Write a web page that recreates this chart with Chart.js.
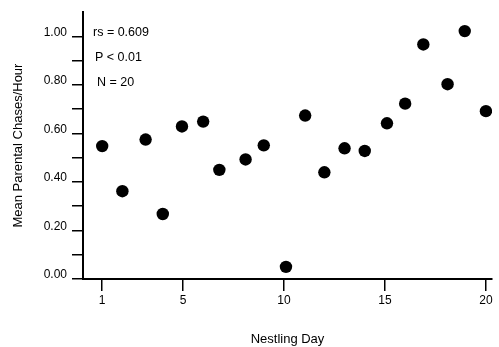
<!DOCTYPE html>
<html>
<head>
<meta charset="utf-8">
<script src="https://cdn.jsdelivr.net/npm/chart.js@4"></script>
<style>
  html, body { margin: 0; padding: 0; background: #fff; }
  #wrap { width: 499px; height: 347px; }
</style>
</head>
<body>
<div id="wrap"><canvas id="chaseChart" width="499" height="347"></canvas></div>
<script>
// Data (x as plotted, y = mean chases per hour)
const nestlingDays = [1.0, 2.0, 3.15, 4.0, 4.95, 6.0, 6.8, 8.1, 9.0, 10.1,
  11.05, 12.0, 13.0, 14.0, 15.1, 16.0, 16.9, 18.1, 18.95, 20.0];
const chaseRates = [0.548, 0.362, 0.575, 0.268, 0.629, 0.649, 0.450, 0.493, 0.551, 0.050,
  0.674, 0.440, 0.539, 0.528, 0.642, 0.723, 0.967, 0.803, 1.022, 0.692];

const xTickValues = [1, 5, 10, 15, 20];
const yTickValues = [0, 0.1, 0.2, 0.3, 0.4, 0.5, 0.6, 0.7, 0.8, 0.9, 1.0];
const yTickLabels = ["0.00", "", "0.20", "", "0.40", "", "0.60", "", "0.80", "", "1.00"];
const statLines = ["rs = 0.609", "P < 0.01", "N = 20"];

const FONT = "'Liberation Sans', Arial, Helvetica, sans-serif";

// Stats text in the upper left corner
const statsText = {
  id: "statsText",
  afterDraw(chart) {
    const { ctx, chartArea } = chart;
    const xOff = [10, 12, 14];
    ctx.save();
    ctx.fillStyle = "#000";
    ctx.font = "12.5px " + FONT;
    ctx.textAlign = "left";
    ctx.textBaseline = "middle";
    statLines.forEach((line, i) => {
      ctx.fillText(line, chartArea.left + xOff[i], chartArea.top + 20 + i * 25);
    });
    ctx.restore();
  }
};

const ctx = document.getElementById("chaseChart").getContext("2d");

new Chart(ctx, {
  type: "scatter",
  data: {
    datasets: [{
      data: nestlingDays.map((d, i) => ({ x: d, y: chaseRates[i] })),
      backgroundColor: "#000",
      borderWidth: 0,
      pointRadius: 6.2,
      pointHoverRadius: 6.2
    }]
  },
  options: {
    responsive: false,
    devicePixelRatio: 1,
    animation: false,
    layout: { padding: { top: 7, right: 7, left: 0, bottom: 0 } },
    plugins: {
      legend: { display: false },
      tooltip: { enabled: false }
    },
    scales: {
      x: {
        type: "linear",
        min: 0.05,
        max: 20.3,
        afterBuildTicks: scale => {
          scale.ticks = xTickValues.map(v => ({ value: v }));
        },
        afterFit: scale => { scale.height = 68; },
        border: { display: true, color: "#000", width: 2 },
        grid: {
          display: true,
          drawOnChartArea: false,
          drawTicks: true,
          tickLength: 12,
          color: "#000",
          lineWidth: 1.5
        },
        ticks: {
          color: "#000",
          font: { family: FONT, size: 12 },
          padding: 2,
          maxRotation: 0,
          autoSkip: false
        },
        title: {
          display: true,
          text: "Nestling Day",
          color: "#000",
          font: { family: FONT, size: 13 },
          padding: { top: 3, bottom: 0 }
        }
      },
      y: {
        type: "linear",
        min: 0,
        max: 1.1,
        afterBuildTicks: scale => {
          scale.ticks = yTickValues.map(v => ({ value: v }));
        },
        afterFit: scale => { scale.width = 83; },
        border: { display: true, color: "#000", width: 2 },
        grid: {
          display: true,
          drawOnChartArea: false,
          drawTicks: true,
          tickLength: 11,
          color: "#000",
          lineWidth: 1.5
        },
        ticks: {
          color: "#000",
          font: { family: FONT, size: 12 },
          padding: 5,
          labelOffset: -4,
          autoSkip: false,
          callback: (value, index) => yTickLabels[index]
        },
        title: {
          display: true,
          text: "Mean Parental Chases/Hour",
          color: "#000",
          font: { family: FONT, size: 13 },
          padding: { top: 11, bottom: 0 }
        }
      }
    }
  },
  plugins: [statsText]
});
</script>
</body>
</html>
